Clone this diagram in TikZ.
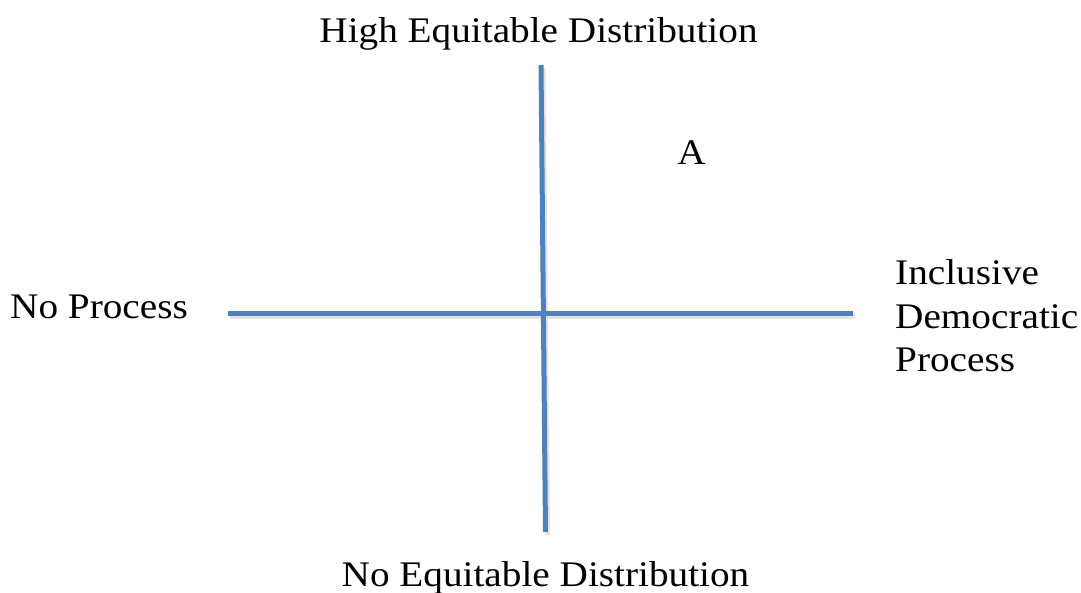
\documentclass[tikz,border=0pt]{standalone}
\usepackage{fontspec}
\setmainfont{Liberation Serif}[FakeStretch=1.09]
\definecolor{axisblue}{RGB}{79,129,189}
\begin{document}
\begin{tikzpicture}[x=1pt,y=-1pt,
  axis/.style={draw=axisblue,line width=5pt},
  shadow/.style={draw=black!18,line width=5pt,opacity=0.6},
  lbl/.style={font=\fontsize{36}{38}\selectfont,inner sep=0pt,anchor=base}]
\useasboundingbox[fill=white] (0,0) rectangle (1081,592);
\coordinate (vt) at (541,65);
\coordinate (vb) at (545.5,532);
\coordinate (hl) at (228,313);
\coordinate (hr) at (853,313);
\draw[shadow] ([shift={(2,3)}]vt) -- ([shift={(2,3)}]vb);
\draw[shadow] ([shift={(2,3)}]hl) -- ([shift={(2,3)}]hr);
\draw[axis] (vt) -- (vb);
\draw[axis] (hl) -- (hr);
\node[lbl] (top) at (538.5,42) {High Equitable Distribution};
\node[lbl] (bot) at (545.5,586) {No Equitable Distribution};
\node[lbl,anchor=base west] (left) at (10,318) {No Process};
\node[lbl] (a) at (691.5,164) {A};
\node[lbl,anchor=base west] (r1) at (895,284) {Inclusive};
\node[lbl,anchor=base west] (r2) at (895,328) {Democratic};
\node[lbl,anchor=base west] (r3) at (895,371) {Process};
\end{tikzpicture}
\end{document}
